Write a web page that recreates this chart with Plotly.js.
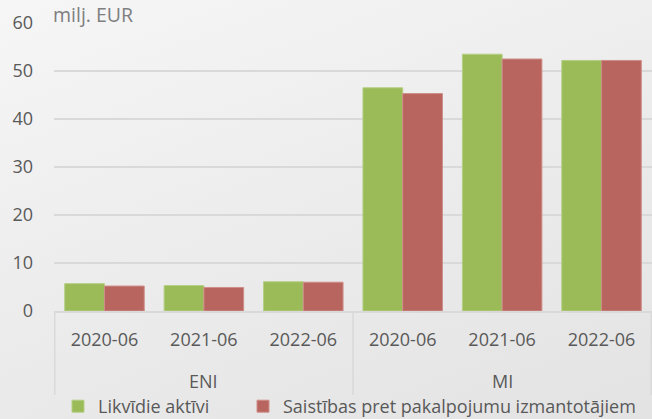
<!DOCTYPE html>
<html>
<head>
<meta charset="utf-8">
<script src="https://cdn.plot.ly/plotly-3.0.1.min.js"></script>
<style>
html,body{margin:0;padding:0;}
body{width:652px;height:419px;overflow:hidden;background:linear-gradient(160deg,#f6f6f6 0%,#ebebeb 55%,#e3e3e3 100%);}
#chart{width:652px;height:419px;}
</style>
</head>
<body>
<div id="chart"></div>
<script>
const groups = ["ENI","ENI","ENI","MI","MI","MI"];
const periods = ["2020-06","2021-06","2022-06","2020-06","2021-06","2022-06"];
const seriesNames = ["Likvīdie aktīvi","Saistības pret pakalpojumu izmantotājiem"];
const liquidAssets = [5.7,5.3,6.1,46.5,53.5,52.2];
const liabilities = [5.2,4.9,6.0,45.3,52.5,52.2];
const yTicks = [0,10,20,30,40,50,60];
const unitLabel = "milj. EUR";

const FONT = "Open Sans, sans-serif";
const xIds = groups.map((g,i)=>g+"|"+periods[i]);

// group spans derived from the groups array
const spans = [];
groups.forEach((g,i)=>{
  if(!spans.length || spans[spans.length-1].name!==g) spans.push({name:g,start:i,end:i});
  else spans[spans.length-1].end=i;
});

const traces = [
  {type:"bar", name:seriesNames[0], x:xIds, y:liquidAssets, legend:"legend",
   marker:{color:"#9bbb59", line:{color:"#b5cf85", width:1}}},
  {type:"bar", name:seriesNames[1], x:xIds, y:liabilities, legend:"legend2",
   marker:{color:"#b9655f", line:{color:"#cf8e89", width:1}}}
];

const divY = -0.292;
const shapes = [];
spans.forEach((s,k)=>{
  shapes.push({type:"line", xref:"x", yref:"paper", x0:s.start-0.5, x1:s.start-0.5, y0:0, y1:divY,
               line:{color:"#d9d9d9", width:1.5}});
  if(k===spans.length-1)
    shapes.push({type:"line", xref:"x", yref:"paper", x0:s.end+0.5, x1:s.end+0.5, y0:0, y1:divY,
                 line:{color:"#d9d9d9", width:1.5}});
});

const annotations = spans.map(s=>({
  text:s.name, xref:"x", yref:"paper", x:(s.start+s.end)/2, y:-0.243, yanchor:"middle", xanchor:"center",
  showarrow:false, font:{family:FONT, size:18, color:"#595959"}
}));
annotations.push({text:unitLabel, xref:"paper", yref:"paper", x:0, y:1, xanchor:"left", yanchor:"middle",
                  xshift:-3, yshift:9, showarrow:false,
                  font:{family:FONT, size:19.5, color:"#7f7f7f"}});

const legendBase = {orientation:"h", xref:"container", yref:"container", xanchor:"left",
                    y:0.074, yanchor:"top", font:{family:FONT, size:18, color:"#595959"},
                    bgcolor:"rgba(0,0,0,0)"};

const layout = {
  width:652, height:419,
  margin:{l:54, r:0, t:23, b:108},
  paper_bgcolor:"rgba(0,0,0,0)",
  plot_bgcolor:"rgba(0,0,0,0)",
  font:{family:FONT, color:"#595959", size:18},
  barmode:"group",
  bargap:0.2,
  bargroupgap:0,
  showlegend:true,
  legend:Object.assign({}, legendBase, {x:58/652}),
  legend2:Object.assign({}, legendBase, {x:243/652}),
  xaxis:{type:"category", automargin:false, showgrid:false, showline:true, linecolor:"#d9d9d9", linewidth:1.5,
         ticks:"", tickvals:xIds, ticktext:periods, ticklabelstandoff:12,
         tickfont:{family:FONT, size:18, color:"#595959"}},
  yaxis:{range:[0,60], automargin:false, tickvals:yTicks, showgrid:true, gridcolor:"#d9d9d9", gridwidth:1.5,
         zeroline:false, showline:false, ticks:"", ticklabelstandoff:20,
         tickfont:{family:FONT, size:18, color:"#595959"}},
  shapes:shapes,
  annotations:annotations
};

Plotly.newPlot("chart", traces, layout, {displayModeBar:false, staticPlot:true});
</script>
</body>
</html>
